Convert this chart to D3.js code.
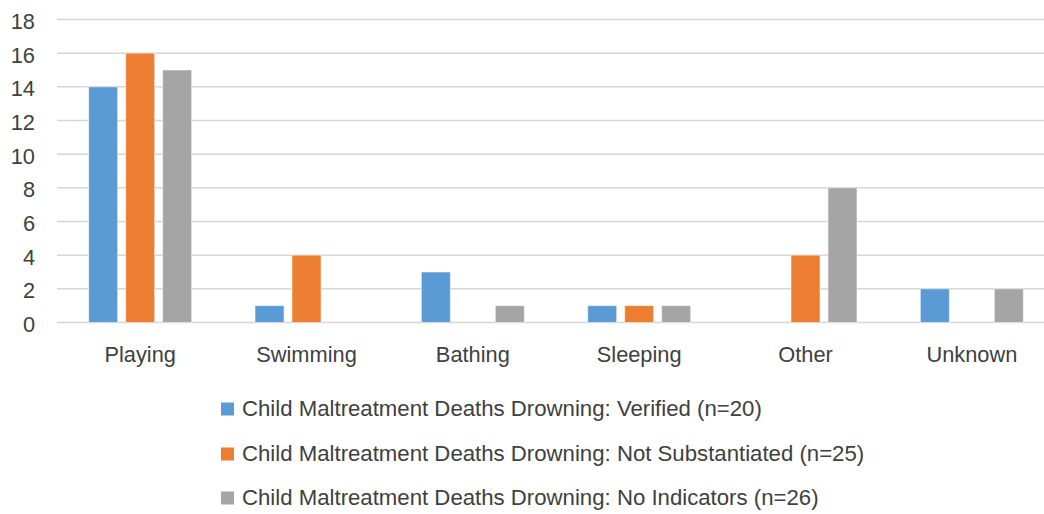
<!DOCTYPE html>
<html>
<head>
<meta charset="utf-8">
<script src="https://cdn.jsdelivr.net/npm/d3@7"></script>
<style>
  html, body { margin: 0; padding: 0; background: #fff; }
  svg { display: block; }
  text { font-family: "Liberation Sans", Arial, sans-serif; fill: #404040; }
</style>
</head>
<body>
<svg id="chart" width="1044" height="514"></svg>
<script>
const categories = ["Playing", "Swimming", "Bathing", "Sleeping", "Other", "Unknown"];
const seriesNames = [
  "Child Maltreatment Deaths Drowning: Verified (n=20)",
  "Child Maltreatment Deaths Drowning: Not Substantiated (n=25)",
  "Child Maltreatment Deaths Drowning: No Indicators (n=26)"
];
const verified = [14, 1, 3, 1, 0, 2];
const notSubstantiated = [16, 4, 0, 1, 4, 0];
const noIndicators = [15, 0, 1, 1, 8, 2];
const yTicks = [0, 2, 4, 6, 8, 10, 12, 14, 16, 18];
const colors = ["#5B9BD5", "#ED7D31", "#A5A5A5"];

const seriesValues = [verified, notSubstantiated, noIndicators];
const svg = d3.select("#chart");
const fontSize = 21.8;
const legendFontSize = 22.2;

const x0 = d3.scaleBand().domain(categories).range([57, 1055])
  .paddingInner(0.333).paddingOuter(0.1665);
const x1 = d3.scaleBand().domain(d3.range(3)).range([0, x0.bandwidth()])
  .paddingInner(0.216).paddingOuter(0.108);
const y = d3.scaleLinear().domain([0, 18]).range([322.5, 19.5]);

// gridlines
svg.append("g").selectAll("line").data(yTicks).join("line")
  .attr("x1", 57).attr("x2", 1044)
  .attr("y1", d => y(d)).attr("y2", d => y(d))
  .attr("stroke", "#d6d6d6").attr("stroke-width", 1.5);

// y axis labels
const yAxis = d3.axisLeft(y).tickValues(yTicks).tickSize(0).tickPadding(0);
const yg = svg.append("g").attr("transform", "translate(35,0)").call(yAxis);
yg.select(".domain").remove();
yg.selectAll("text").attr("font-size", fontSize).attr("font-family", null)
  .attr("fill", "#404040").attr("dy", "0.36em").attr("y", 1);

// bars
const groups = svg.append("g").selectAll("g").data(categories).join("g")
  .attr("transform", d => `translate(${x0(d)},0)`);
groups.selectAll("rect")
  .data((c, i) => seriesValues.map((vals, s) => ({ s, v: vals[i] })))
  .join("rect")
  .filter(d => d.v > 0)
  .attr("x", d => x1(d.s))
  .attr("width", x1.bandwidth())
  .attr("y", d => y(d.v))
  .attr("height", d => y(0) - y(d.v))
  .attr("fill", d => colors[d.s])
  .attr("stroke", "#ffffff").attr("stroke-opacity", 0.5).attr("stroke-width", 1);

// x axis labels
const xAxis = d3.axisBottom(x0).tickSize(0).tickPadding(0);
const xg = svg.append("g").attr("transform", "translate(0,362)").call(xAxis);
xg.select(".domain").remove();
xg.selectAll("text").attr("font-size", fontSize).attr("font-family", null)
  .attr("fill", "#404040").attr("dy", 0).attr("y", 0);

// legend
const legendY = [409, 454, 498];
const lg = svg.append("g").selectAll("g").data(seriesNames).join("g")
  .attr("transform", (d, i) => `translate(221,${legendY[i]})`);
lg.append("rect").attr("x", 0).attr("y", -6.5).attr("width", 13).attr("height", 13)
  .attr("fill", (d, i) => colors[i]);
lg.append("text").attr("x", 21).attr("y", 7).attr("font-size", legendFontSize)
  .text(d => d);
</script>
</body>
</html>
